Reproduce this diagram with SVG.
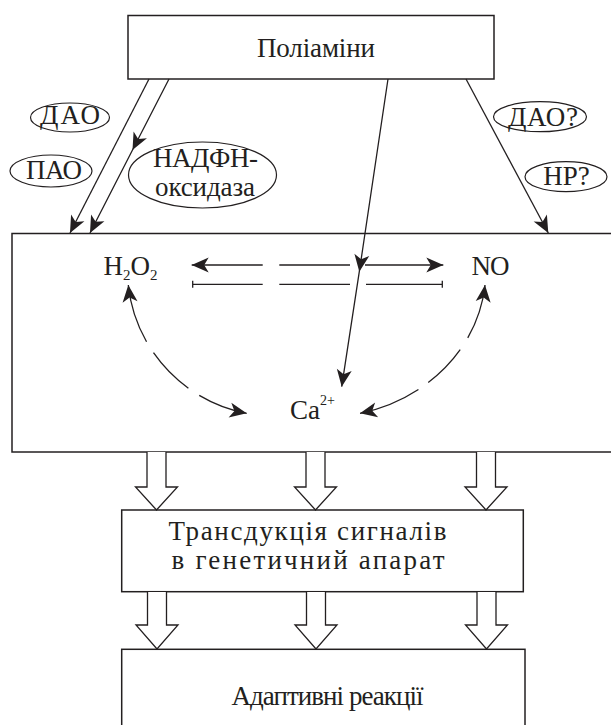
<svg xmlns="http://www.w3.org/2000/svg" width="611" height="725" viewBox="0 0 611 725">
<style>
.box{fill:#fff;stroke:#231f20;stroke-width:1.5}
.ell{fill:#fff;stroke:#231f20;stroke-width:1.2}
.t{font-family:"Liberation Serif","Times New Roman",serif;fill:#231f20;font-size:27px}
.ln{fill:none;stroke:#231f20;stroke-width:1.3}
.blk{fill:#fff;stroke:#231f20;stroke-width:1.3;stroke-linejoin:miter}
</style>
<defs>
<marker id="ah" viewBox="-18 -9 19 18" refX="0" refY="0" markerWidth="19" markerHeight="18" markerUnits="userSpaceOnUse" orient="auto-start-reverse">
<path d="M0,0 L-17,-7.5 L-12.5,0 L-17,7.5 Z" fill="#231f20"/>
</marker>
</defs>
<rect width="611" height="725" fill="#fff"/>

<g id="cell">
<rect class="box" x="12" y="233.5" width="640" height="218.5"/>
</g>

<g id="polyamines">
<rect class="box" x="128" y="15.5" width="366" height="63.5"/>
<text class="t" x="316" y="57" font-size="28" text-anchor="middle" textLength="118" lengthAdjust="spacing">Поліаміни</text>
</g>

<g id="dao">
<ellipse class="ell" cx="70" cy="117.5" rx="39.5" ry="14.5"/>
<text class="t" x="70" y="124" font-size="26" text-anchor="middle" textLength="60" lengthAdjust="spacing">ДАО</text>
</g>
<g id="pao">
<ellipse class="ell" cx="51" cy="171" rx="41" ry="16"/>
<text class="t" x="54" y="178.5" font-size="26" text-anchor="middle" textLength="56" lengthAdjust="spacing">ПАО</text>
</g>
<g id="nadph">
<ellipse class="ell" cx="202.5" cy="175" rx="74" ry="33"/>
<text class="t" x="205.5" y="167" font-size="25" text-anchor="middle" textLength="105" lengthAdjust="spacing">НАДФН-</text>
<text class="t" x="205" y="195.5" font-size="25" text-anchor="middle" textLength="100" lengthAdjust="spacing">оксидаза</text>
</g>
<g id="dao2">
<ellipse class="ell" cx="540" cy="116.7" rx="46.5" ry="15"/>
<text class="t" x="543" y="126" font-size="26" text-anchor="middle" textLength="70" lengthAdjust="spacing">ДАО?</text>
</g>
<g id="hp">
<ellipse class="ell" cx="566" cy="176.7" rx="41" ry="15"/>
<text class="t" x="566.5" y="185" font-size="27" text-anchor="middle">НР?</text>
</g>

<g id="h2o2">
<text class="t" x="103.5" y="275">H<tspan font-size="15" dy="5">2</tspan><tspan dy="-5">O</tspan><tspan font-size="15" dy="5">2</tspan></text>
</g>
<g id="no">
<text class="t" x="471.5" y="275" textLength="38" lengthAdjust="spacing">NO</text>
</g>
<g id="ca">
<text class="t" x="290" y="419">Ca<tspan font-size="14" dy="-14">2+</tspan></text>
</g>

<g id="transduction">
<rect class="box" x="121.7" y="510" width="401.6" height="81.7"/>
<text class="t" x="307.5" y="540" text-anchor="middle" textLength="278" lengthAdjust="spacing">Трансдукція сигналів</text>
<text class="t" x="308" y="568.5" text-anchor="middle" textLength="273" lengthAdjust="spacing">в генетичний апарат</text>
</g>
<g id="adaptive">
<rect class="box" x="121.7" y="649.3" width="403.3" height="100"/>
<text class="t" x="327.5" y="705" text-anchor="middle" textLength="192" lengthAdjust="spacing">Адаптивні реакції</text>
</g>

<g id="connectors">
<path class="ln" d="M149,79 L70,233" marker-end="url(#ah)"/>
<path class="ln" d="M169,79 L132.5,150 L90,233" marker-mid="url(#ah)" marker-end="url(#ah)"/>
<path class="ln" d="M388,79 L359.3,271.7 L341.7,386.7" marker-mid="url(#ah)" marker-end="url(#ah)"/>
<path class="ln" d="M466,79 L548.3,233" marker-end="url(#ah)"/>

<path class="ln" d="M262.7,265 L191.7,265" marker-end="url(#ah)"/>
<path class="ln" d="M279.3,265 L350,265"/>
<path class="ln" d="M365,265 L443.3,265" marker-end="url(#ah)"/>
<path class="ln" d="M192.7,284.3 L262.7,284.3 M192.7,280.8 V287.8"/>
<path class="ln" d="M279.3,284.3 L350,284.3"/>
<path class="ln" d="M366,284.3 L442.3,284.3 M442.3,280.8 V287.8"/>

<path class="ln" d="M128.3,285 C135,350 185,402 246.7,413.3" stroke-dasharray="60 13 50 13 80" marker-start="url(#ah)" marker-end="url(#ah)"/>
<path class="ln" d="M485,285 C478,350 425,400 360,413.3" stroke-dasharray="56 14 46 12 90" marker-start="url(#ah)" marker-end="url(#ah)"/>

<path class="blk" d="M147,452 V487 H135.5 L156.5,510 L177.5,487 H166 V452"/>
<path class="blk" d="M306,452 V487 H294.5 L315.5,510 L336.5,487 H325 V452"/>
<path class="blk" d="M476.5,452 V487 H465 L486,510 L507,487 H495.5 V452"/>
<path class="blk" d="M147.5,592 V625 H136 L157,649 L178,625 H166.5 V592"/>
<path class="blk" d="M306.5,592 V625 H295 L316,649 L337,625 H325.5 V592"/>
<path class="blk" d="M477,592 V625 H465.5 L486.5,649 L507.5,625 H496 V592"/>
</g>
</svg>
